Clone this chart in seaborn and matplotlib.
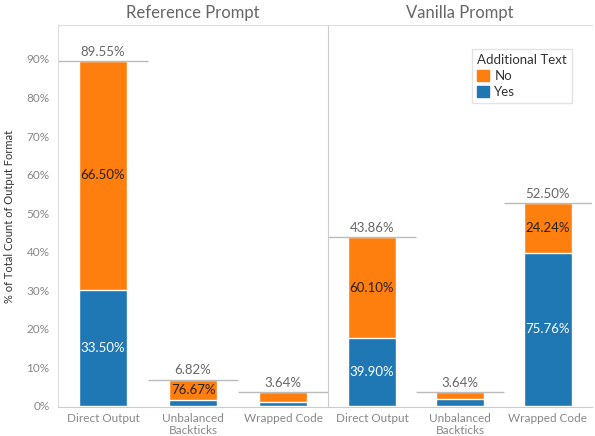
import matplotlib.pyplot as plt
import seaborn as sns
import pandas as pd
from matplotlib.patches import Patch

categories = ["Direct Output", "Unbalanced\nBackticks", "Wrapped Code"]
panels = ["Reference Prompt", "Vanilla Prompt"]
# % of total count, per panel
totals = {"Reference Prompt": [89.55, 6.82, 3.64], "Vanilla Prompt": [43.86, 3.64, 52.50]}
yes_vals = {"Reference Prompt": [30.00, 1.59, 0.95], "Vanilla Prompt": [17.50, 1.82, 39.77]}
# share of each bar (labels shown inside segments, None = hidden)
no_share = {"Reference Prompt": ["66.50%", "76.67%", None], "Vanilla Prompt": ["60.10%", None, "24.24%"]}
yes_share = {"Reference Prompt": ["33.50%", None, None], "Vanilla Prompt": ["39.90%", None, "75.76%"]}
yticks = [0, 10, 20, 30, 40, 50, 60, 70, 80, 90]

orange = "#FF7F0E"
blue = "#1F77B4"
grey = "#888888"

sns.set_style("white")
plt.rcParams["font.family"] = ["Lato", "DejaVu Sans"]

fig = plt.figure(figsize=(5.95, 4.36), dpi=100)
ax1 = fig.add_axes([58 / 595, 29 / 436, 270 / 595, 382 / 436])
ax2 = fig.add_axes([328 / 595, 29 / 436, 264 / 595, 382 / 436], sharey=ax1)

for ax, panel in zip([ax1, ax2], panels):
    df = pd.DataFrame({"cat": categories, "total": totals[panel], "yes": yes_vals[panel]})
    sns.barplot(data=df, x="cat", y="total", color=orange, width=0.54, ax=ax, saturation=1)
    sns.barplot(data=df, x="cat", y="yes", color=blue, width=0.54, ax=ax, saturation=1)
    for i, row in df.iterrows():
        ax.hlines(row["total"], i - 0.5, i + 0.5, color="#BBBBBB", lw=1)
        ax.text(i, row["total"] + 0.8, f"{row['total']:.2f}%", ha="center", va="bottom",
                fontsize=9.5, color="#666666")
        if no_share[panel][i]:
            ax.text(i, (row["total"] + row["yes"]) / 2, no_share[panel][i], ha="center",
                    va="center", fontsize=9.5, color="#222222")
        if yes_share[panel][i]:
            ax.text(i, row["yes"] / 2, yes_share[panel][i], ha="center", va="center",
                    fontsize=9.5, color="white")
    ax.set_xlim(-0.5, 2.5)
    ax.set_ylim(-0.3, 98.8)
    ax.set_xlabel("")
    ax.set_ylabel("")
    ax.set_title(panel, fontsize=12, color="#666666", pad=5)
    ax.tick_params(axis="x", labelsize=8.5, colors=grey, length=0, pad=4)
    for s in ax.spines.values():
        s.set_color("#DDDDDD")
        s.set_linewidth(0.8)
    ax.spines["right"].set_visible(False)
    ax.spines["bottom"].set_color("#CCCCCC")

ax1.set_yticks(yticks)
ax1.set_yticklabels([f"{t}%" for t in yticks])
ax1.tick_params(axis="y", labelsize=8.5, colors=grey, length=0, pad=6)
ax2.tick_params(axis="y", left=False, labelleft=False)
ax1.set_ylabel("% of Total Count of Output Format", fontsize=8, color="#333333", labelpad=8)
ax2.spines["left"].set_color("#CCCCCC")

handles = [Patch(color=orange, label="No"), Patch(color=blue, label="Yes")]
leg = ax2.legend(handles=handles, title="Additional Text", loc="upper right",
                 bbox_to_anchor=(0.95, 0.955), fontsize=9.5, title_fontsize=9.5,
                 frameon=True, handlelength=0.9, handleheight=0.9, handletextpad=0.4,
                 borderpad=0.4, labelspacing=0.3, alignment="left", fancybox=False)
leg.get_frame().set_edgecolor("#DDDDDD")
leg.get_title().set_color("#333333")
for t in leg.get_texts():
    t.set_color("#333333")

fig.savefig("out.png", dpi=100)
